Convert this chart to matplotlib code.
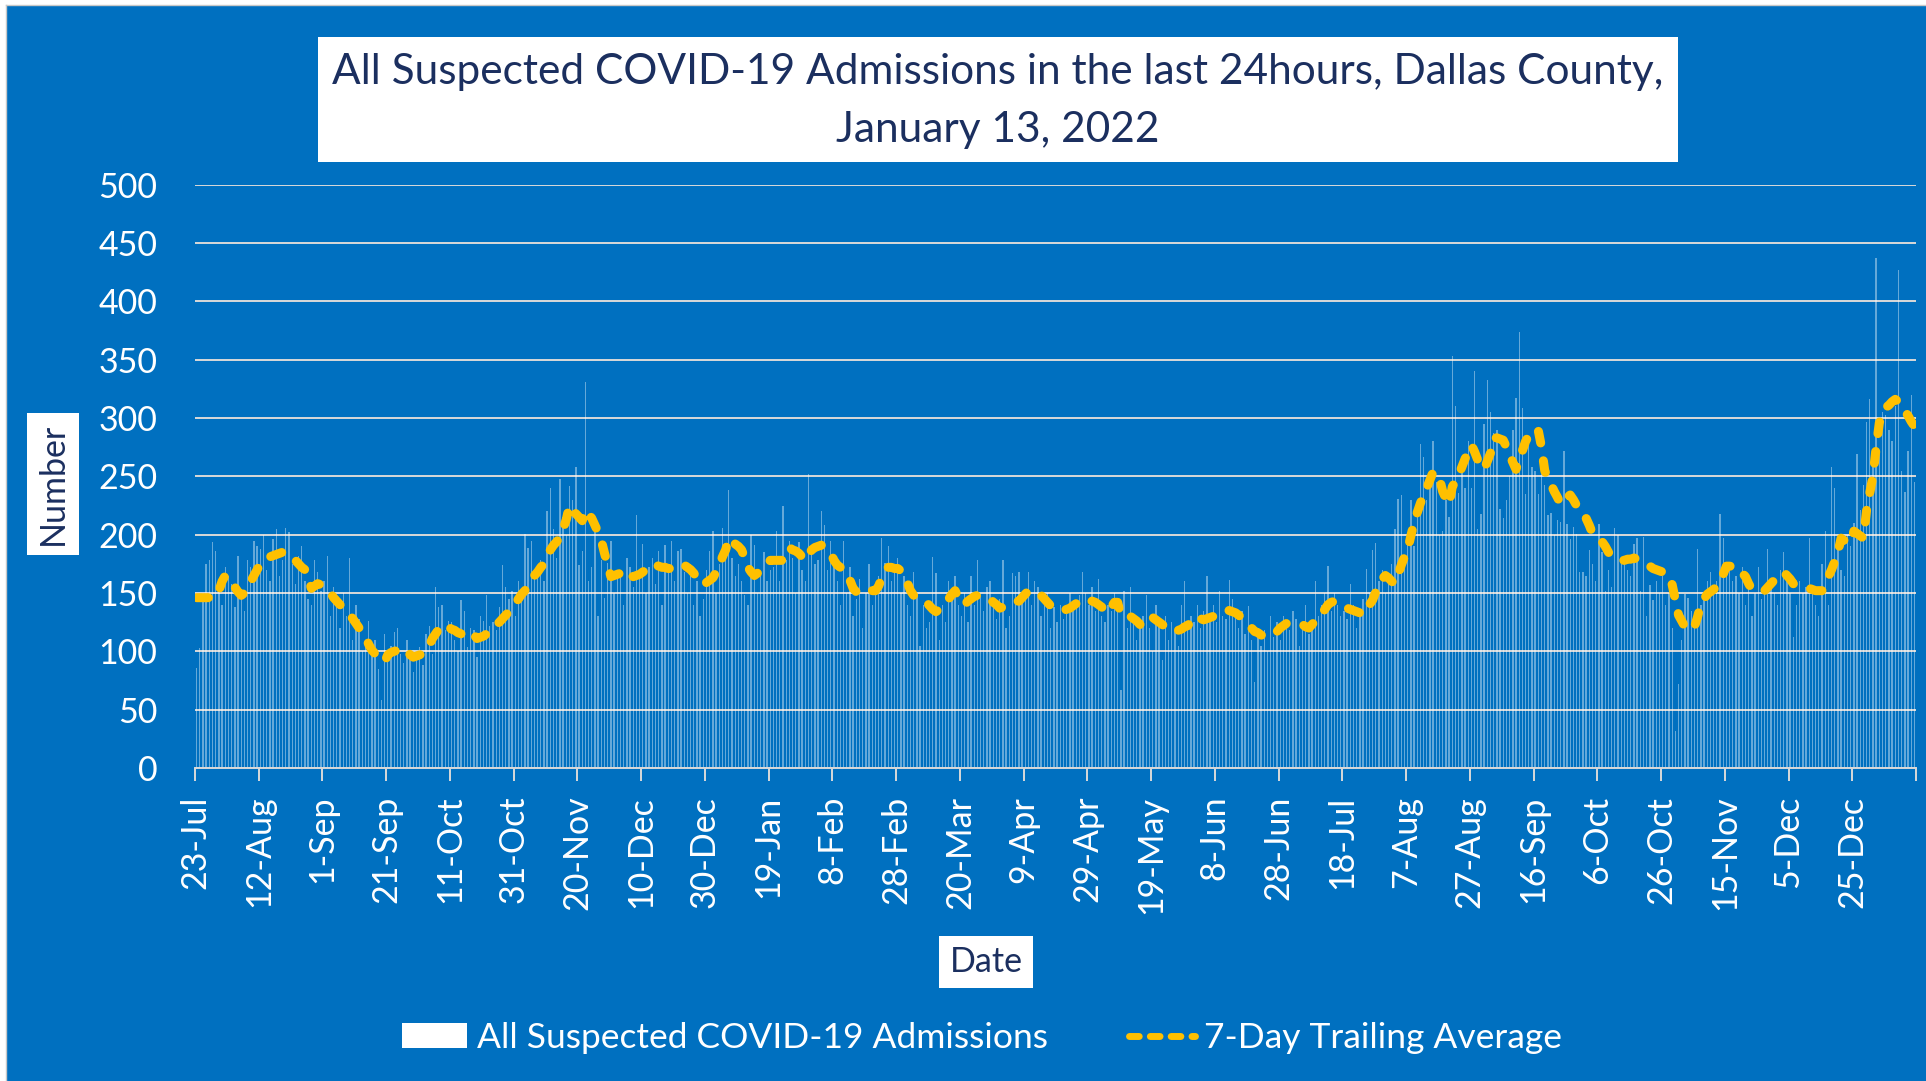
import matplotlib
matplotlib.use("Agg")
import matplotlib.pyplot as plt
import numpy as np
from matplotlib.patches import Patch, Rectangle
from matplotlib.lines import Line2D

title_lines = ["All Suspected COVID-19 Admissions in the last 24hours, Dallas County,",
               "January 13, 2022"]
x_label = "Date"
y_label = "Number"
legend_labels = ["All Suspected COVID-19 Admissions", "7-Day Trailing Average"]

# tick labels every 20 days, starting 23-Jul-2020
tick_labels = ["23-Jul", "12-Aug", "1-Sep", "21-Sep", "11-Oct", "31-Oct", "20-Nov",
               "10-Dec", "30-Dec", "19-Jan", "8-Feb", "28-Feb", "20-Mar", "9-Apr",
               "29-Apr", "19-May", "8-Jun", "28-Jun", "18-Jul", "7-Aug", "27-Aug",
               "16-Sep", "6-Oct", "26-Oct", "15-Nov", "5-Dec", "25-Dec"]
y_ticks = [0, 50, 100, 150, 200, 250, 300, 350, 400, 450, 500]

# daily suspected admissions, 23-Jul-2020 .. 13-Jan-2022 (540 days)
admissions = [
    86, 103, 150, 175, 178, 194, 186, 152, 140, 172, 165, 158, 138, 182, 150, 135, 178, 172, 195, 190,
    188, 200, 170, 160, 196, 205, 165, 178, 206, 202, 175, 158, 182, 190, 160, 145, 140, 178, 168, 152,
    160, 182, 130, 155, 140, 120, 150, 130, 180, 110, 140, 128, 100, 105, 126, 96, 110, 85, 58, 115,
    92, 105, 117, 120, 98, 90, 110, 100, 82, 95, 104, 88, 115, 122, 98, 155, 138, 140, 118, 126,
    125, 110, 100, 144, 135, 104, 120, 118, 95, 130, 126, 148, 122, 125, 118, 138, 174, 155, 145, 152,
    130, 160, 150, 201, 189, 195, 166, 172, 178, 160, 220, 240, 205, 180, 248, 215, 200, 242, 230, 258,
    174, 186, 331, 160, 172, 204, 130, 178, 146, 176, 195, 150, 165, 169, 140, 180, 172, 155, 217, 165,
    192, 150, 172, 180, 158, 186, 140, 191, 170, 195, 160, 186, 188, 168, 150, 175, 140, 160, 130, 145,
    170, 186, 203, 150, 175, 206, 190, 238, 180, 165, 175, 160, 148, 140, 200, 191, 150, 168, 185, 160,
    170, 172, 203, 160, 225, 178, 195, 180, 150, 194, 170, 160, 252, 185, 175, 178, 220, 208, 170, 195,
    178, 160, 140, 195, 150, 172, 130, 145, 162, 120, 150, 175, 140, 155, 165, 197, 176, 190, 160, 170,
    180, 150, 165, 140, 130, 168, 150, 105, 140, 120, 125, 181, 167, 110, 140, 125, 160, 150, 165, 140,
    130, 150, 125, 165, 140, 178, 150, 135, 155, 160, 140, 128, 145, 178, 120, 130, 167, 165, 168, 150,
    150, 168, 140, 160, 155, 130, 145, 150, 120, 138, 125, 140, 128, 132, 150, 135, 140, 148, 168, 150,
    140, 155, 135, 162, 130, 125, 140, 135, 150, 145, 67, 152, 120, 155, 130, 110, 125, 130, 148, 120,
    100, 140, 125, 93, 130, 110, 125, 118, 105, 140, 160, 118, 130, 125, 140, 120, 135, 165, 130, 140,
    125, 152, 130, 128, 161, 145, 130, 120, 135, 115, 139, 110, 74, 120, 105, 118, 100, 130, 112, 125,
    110, 130, 125, 118, 135, 128, 105, 120, 140, 115, 125, 160, 130, 140, 150, 173, 135, 150, 140, 130,
    135, 128, 158, 140, 120, 130, 145, 171, 150, 187, 193, 160, 170, 150, 165, 175, 205, 231, 234, 180,
    200, 230, 190, 215, 278, 267, 230, 250, 280, 245, 200, 203, 230, 215, 353, 310, 236, 260, 240, 280,
    240, 340, 205, 218, 295, 333, 305, 287, 290, 222, 214, 230, 250, 290, 317, 374, 309, 235, 278, 258,
    255, 235, 255, 243, 217, 219, 200, 213, 211, 272, 209, 196, 207, 201, 168, 168, 165, 187, 175, 160,
    209, 185, 152, 170, 155, 206, 200, 175, 181, 170, 165, 192, 197, 152, 198, 130, 157, 144, 160, 150,
    165, 140, 150, 120, 32, 72, 110, 149, 146, 135, 125, 188, 140, 150, 160, 168, 155, 160, 218, 197,
    175, 172, 160, 165, 150, 172, 140, 165, 130, 150, 172, 145, 155, 188, 160, 150, 140, 170, 185, 168,
    150, 112, 140, 160, 150, 155, 197, 150, 140, 130, 175, 203, 140, 258, 240, 190, 170, 165, 200, 190,
    210, 269, 221, 243, 297, 316, 260, 437, 269, 305, 303, 290, 280, 310, 427, 255, 237, 272, 320, 245,
]

# 7-day trailing average as drawn
avg7 = [
    146, 146, 146, 146, 146, 146, 146, 152, 160, 165, 163, 160, 155, 151, 148, 150, 155, 160, 165, 170,
    175, 178, 180, 181, 182, 183, 184, 185, 185, 183, 180, 178, 175, 172, 170, 163, 154, 156, 158, 157,
    156, 153, 150, 146, 143, 140, 137, 135, 131, 128, 124, 120, 116, 112, 106, 101, 98, 95, 93, 91,
    97, 99, 100, 101, 102, 103, 101, 97, 95, 96, 97, 98, 100, 105, 111, 115, 119, 123, 122, 121,
    119, 118, 116, 115, 114, 115, 117, 114, 111, 112, 113, 115, 118, 120, 123, 125, 128, 131, 134, 138,
    141, 145, 149, 152, 156, 161, 165, 168, 172, 175, 181, 187, 191, 194, 198, 205, 213, 225, 222, 218,
    215, 212, 221, 218, 214, 208, 202, 195, 184, 174, 164, 165, 166, 167, 168, 170, 167, 164, 165, 166,
    168, 170, 173, 175, 174, 173, 172, 172, 171, 171, 172, 174, 175, 174, 172, 170, 167, 163, 160, 157,
    159, 161, 163, 168, 174, 181, 187, 197, 195, 192, 190, 187, 180, 172, 168, 165, 167, 169, 171, 175,
    178, 178, 178, 178, 178, 183, 189, 187, 186, 184, 181, 178, 183, 187, 189, 190, 191, 190, 187, 184,
    178, 174, 172, 170, 168, 161, 154, 151, 152, 154, 154, 153, 152, 152, 156, 163, 168, 172, 172, 171,
    171, 169, 166, 159, 152, 148, 145, 144, 143, 142, 139, 136, 134, 136, 139, 141, 145, 149, 152, 146,
    142, 140, 143, 145, 147, 148, 148, 147, 146, 145, 142, 140, 137, 138, 140, 141, 142, 143, 143, 146,
    149, 152, 152, 151, 150, 148, 145, 142, 139, 137, 136, 135, 135, 136, 137, 139, 141, 143, 145, 144,
    144, 143, 142, 140, 138, 135, 133, 138, 142, 142, 131, 131, 131, 130, 128, 126, 123, 126, 129, 131,
    129, 127, 125, 123, 121, 119, 117, 118, 118, 119, 121, 122, 126, 130, 129, 128, 127, 128, 129, 130,
    130, 131, 133, 135, 135, 134, 133, 131, 128, 125, 122, 120, 117, 116, 114, 113, 113, 114, 114, 117,
    120, 122, 124, 124, 124, 124, 124, 123, 121, 120, 123, 126, 128, 132, 136, 140, 142, 143, 141, 139,
    138, 137, 136, 135, 134, 133, 131, 135, 140, 144, 151, 158, 162, 165, 163, 160, 158, 166, 174, 181,
    187, 199, 210, 219, 227, 234, 240, 247, 254, 251, 248, 237, 231, 226, 241, 246, 251, 258, 265, 271,
    277, 271, 264, 260, 256, 263, 270, 283, 283, 282, 281, 275, 268, 262, 256, 265, 272, 280, 285, 290,
    290, 289, 275, 255, 248, 243, 237, 232, 226, 230, 232, 234, 230, 225, 221, 218, 214, 208, 201, 199,
    196, 194, 190, 185, 181, 180, 179, 178, 178, 179, 179, 180, 179, 178, 177, 175, 173, 171, 170, 169,
    168, 167, 165, 157, 144, 131, 126, 121, 119, 118, 121, 130, 141, 145, 149, 151, 153, 156, 159, 166,
    173, 173, 173, 173, 170, 167, 164, 158, 153, 153, 152, 152, 152, 155, 158, 161, 164, 166, 168, 165,
    162, 158, 157, 156, 155, 155, 154, 153, 152, 152, 152, 158, 164, 170, 177, 185, 197, 195, 193, 193,
    203, 201, 199, 197, 221, 236, 250, 275, 296, 303, 309, 311, 314, 316, 314, 311, 306, 302, 297, 293,
]

BLUE = "#0070C0"
NAVY = "#1B2F5F"
YELLOW = "#FFC000"
GRID = "#D9D9D9"
FS = 24.5

plt.rcParams['font.family'] = ['Lato', 'DejaVu Sans']

W, H = 1926, 1081
fig = plt.figure(figsize=(W / 100, H / 100), dpi=100, facecolor=BLUE)

# light frame at top/left edge
fig.add_artist(Rectangle((0, 0), 6 / W, 1, transform=fig.transFigure, fc="white", ec="none"))
fig.add_artist(Rectangle((0, 1 - 5 / H), 1, 5 / H, transform=fig.transFigure, fc="white", ec="none"))
fig.add_artist(Line2D([6 / W, 6 / W], [0, 1 - 5 / H], transform=fig.transFigure, color="#C8C8C8", lw=1))
fig.add_artist(Line2D([6 / W, 1], [1 - 5 / H, 1 - 5 / H], transform=fig.transFigure, color="#C8C8C8", lw=1))

ax = fig.add_axes([195 / W, 1 - 768 / H, (1916 - 195) / W, (768 - 184.7) / H])
ax.set_facecolor("none")
ax.set_axisbelow(True)

n = len(admissions)
x = np.arange(n) + 0.5
ax.bar(x, admissions, width=0.42, color="white", alpha=0.4, linewidth=0, zorder=2)
ax.plot(x, avg7, color=YELLOW, lw=6.5, dashes=(1.3, 2.0), dash_capstyle="round", zorder=3)

ax.set_xlim(0, n)
ax.set_ylim(0, 500)
ax.set_yticks(y_ticks)
ax.yaxis.grid(True, color=GRID, lw=1.4)
ax.tick_params(axis="y", length=0, pad=27, labelsize=FS, labelcolor="white")

xt = np.arange(0, n + 1, 20)
ax.set_xticks(xt)
ax.set_xticklabels(tick_labels + [""] * (len(xt) - len(tick_labels)), rotation=90)
ax.tick_params(axis="x", length=9, width=1.4, color=GRID, pad=11, labelsize=FS, labelcolor="white")

for s in ["top", "right", "left"]:
    ax.spines[s].set_visible(False)
ax.spines["bottom"].set_color(GRID)
ax.spines["bottom"].set_linewidth(1.4)

ax.set_ylabel(y_label, color=NAVY, fontsize=FS,
              bbox=dict(boxstyle="square,pad=0.3", fc="white", ec="none"))
ax.yaxis.set_label_coords((53 - 195) / (1916 - 195), (768 - 484) / (768 - 184.7))
ax.yaxis.label.set_va("center")

ax.set_xlabel(x_label, color=NAVY, fontsize=FS,
              bbox=dict(boxstyle="square,pad=0.3", fc="white", ec="none"))
ax.xaxis.set_label_coords((986 - 195) / (1916 - 195), (768 - 962) / (768 - 184.7))
ax.xaxis.label.set_va("center")

# title box
fig.add_artist(Rectangle((318 / W, 1 - 162 / H), (1678 - 318) / W, 125 / H,
                         transform=fig.transFigure, fc="white", ec="none"))
fig.text(998 / W, 1 - 72 / H, title_lines[0], ha="center", va="center", fontsize=30.5,
         color=NAVY)
fig.text(998 / W, 1 - 130 / H, title_lines[1], ha="center", va="center", fontsize=30.5,
         color=NAVY)

handles = [Patch(fc="white", ec="none"),
           Line2D([], [], color=YELLOW, lw=5, dashes=(1.4, 1.6), dash_capstyle="round")]
fig.legend(handles, legend_labels, loc="center", bbox_to_anchor=(982 / W, 1 - 1038 / H),
           ncol=2, frameon=False, fontsize=25.5, labelcolor="white", handlelength=1.85,
           handletextpad=0.27, columnspacing=2.3)

fig.savefig("out.png", dpi=100, facecolor=BLUE)
